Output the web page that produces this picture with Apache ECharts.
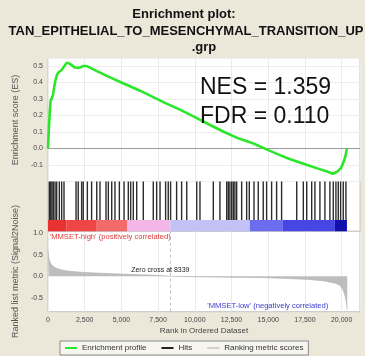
<!DOCTYPE html>
<html><head><meta charset="utf-8">
<script src="https://cdn.jsdelivr.net/npm/echarts@6/dist/echarts.min.js"></script>
<style>html,body{margin:0;padding:0;background:#ebe8d9;}#c{width:365px;height:356px;}</style>
</head><body><div id="c"></div>
<script>
// ---------- data ----------
const titleLines = ['Enrichment plot:', 'TAN_EPITHELIAL_TO_MESENCHYMAL_TRANSITION_UP', '.grp'];
const nesText = 'NES = 1.359';
const fdrText = 'FDR = 0.110';
const xTicks = [0, 2500, 5000, 7500, 10000, 12500, 15000, 17500, 20000];
const esTicks = [-0.1, 0.0, 0.1, 0.2, 0.3, 0.4, 0.5];
const metricTicks = [-0.5, 0.0, 0.5, 1.0];
const zeroCross = 8339;
const zeroCrossText = 'Zero cross at 8339';
const highText = "'MMSET-high' (positively correlated)";
const lowText = "'MMSET-low' (negatively correlated)";
const legendNames = ['Enrichment profile', 'Hits', 'Ranking metric scores'];

// running enrichment score [rank, ES]
const esProfile = [
  [0, 0], [60, 0.12], [120, 0.22], [180, 0.29], [270, 0.29], [330, 0.32], [420, 0.37],
  [500, 0.41], [590, 0.44], [700, 0.46], [820, 0.47], [930, 0.475], [1050, 0.49],
  [1160, 0.505], [1270, 0.52], [1450, 0.515], [1610, 0.505], [1840, 0.49], [2000, 0.488],
  [2180, 0.49], [2400, 0.5], [2600, 0.5], [2860, 0.49], [3300, 0.47], [4000, 0.44],
  [5000, 0.4], [6270, 0.35], [7200, 0.31], [8000, 0.275], [8990, 0.235], [10000, 0.19],
  [11240, 0.133], [12000, 0.1], [13000, 0.06], [14000, 0.03], [15000, -0.01],
  [15800, -0.04], [16500, -0.065], [17500, -0.095], [18500, -0.125], [19000, -0.14],
  [19400, -0.153], [19700, -0.14], [19950, -0.12], [20100, -0.09], [20250, -0.05], [20360, 0.0]
];

// gene-set hit positions (rank)
const hitRanks = [
  90, 180, 270, 360, 480, 590, 770, 930, 1090, 1910, 2060, 2290, 2400, 2680, 2970, 3320,
  3540, 3950, 4110, 4340, 4560, 4860, 5180, 5470, 5630, 5810, 6040, 6490, 7170, 7400,
  7630, 8010, 8190, 8350, 8760, 9100, 9450, 10130, 10350, 11260, 11710, 12170, 12280,
  12390, 12510, 12620, 12730, 12850, 13190, 13530, 13710, 14030, 14320, 14660, 14890,
  15230, 15570, 15910, 16940, 17390, 17620, 17960, 18180, 18520, 18860, 19200, 19430,
  19610, 19770, 19930, 20110, 20290
];

// ranked list metric [rank, signal2noise]
const metricScores = [
  [0, 0.62], [40, 0.45], [120, 0.34], [250, 0.26], [480, 0.2], [750, 0.165], [1020, 0.14],
  [1500, 0.115], [2200, 0.093], [3200, 0.075], [4400, 0.058], [5300, 0.047], [6300, 0.035],
  [7300, 0.02], [8339, 0], [9500, -0.01], [11000, -0.018], [12500, -0.025], [14400, -0.032],
  [16000, -0.05], [17800, -0.077], [18800, -0.11], [19600, -0.165], [19900, -0.22],
  [20100, -0.32], [20250, -0.48], [20330, -0.64], [20380, -0.78]
];

// heat bar bins [startRank, endRank, mean metric]
const colorBarBins = [
  [0, 1270, 0.3], [1270, 3320, 0.15], [3320, 5380, 0.09], [5380, 8339, 0.03],
  [8339, 13750, -0.04], [13750, 16000, -0.08], [16000, 19540, -0.13], [19540, 20360, -0.5]
];

// ---------- chart ----------
const FONT = '"Liberation Sans", Arial, sans-serif';
const fmtK = v => String(v).replace(/\B(?=(\d{3})+(?!\d))/g, ',');
const near = (arr, v) => arr.some(t => Math.abs(t - v) < 1e-6);
const L = 48, R = 5;
const X_MAX = 21250;
const HIT_BOTTOM = 0.227;

const chart = echarts.init(document.getElementById('c'));
const gridBase = {left: L, right: R, show: true, backgroundColor: '#fff', borderColor: '#c4c4c4', borderWidth: 1};
const xBase = {type: 'value', min: 0, max: X_MAX, interval: 2500,
  axisLine: {show: false}, axisTick: {show: false}};
const annoFont = 7.6;

chart.setOption({
  backgroundColor: '#ebe8d9',
  animation: false,
  textStyle: {fontFamily: FONT},
  graphic: [
    {type: 'text', x: 184, y: 14, style: {text: titleLines[0], fontSize: 13, fontWeight: 'bold', fontFamily: FONT, fill: '#111', align: 'center', verticalAlign: 'middle'}},
    {type: 'text', x: 186, y: 31.5, style: {text: titleLines[1], fontSize: 13, fontWeight: 'bold', fontFamily: FONT, fill: '#111', align: 'center', verticalAlign: 'middle'}},
    {type: 'text', x: 204, y: 47, style: {text: titleLines[2], fontSize: 13, fontWeight: 'bold', fontFamily: FONT, fill: '#111', align: 'center', verticalAlign: 'middle'}},
    {type: 'text', x: 200, y: 88, z: 100, style: {text: nesText, fontSize: 23, fontFamily: FONT, fill: '#111', verticalAlign: 'middle'}},
    {type: 'text', x: 200, y: 116.5, z: 100, style: {text: fdrText, fontSize: 23, fontFamily: FONT, fill: '#111', verticalAlign: 'middle'}}
  ],
  grid: [
    Object.assign({top: 58.5, height: 123}, gridBase),
    Object.assign({top: 181.5, height: 49.8}, gridBase),
    Object.assign({top: 231.3, height: 80.4}, gridBase)
  ],
  xAxis: [
    Object.assign({gridIndex: 0, axisLabel: {show: false}, splitLine: {lineStyle: {color: '#ebebeb'}}}, xBase),
    Object.assign({gridIndex: 1, axisLabel: {show: false}, splitLine: {show: false}}, xBase),
    Object.assign({gridIndex: 2,
      name: 'Rank in Ordered Dataset', nameLocation: 'middle', nameGap: 15,
      nameTextStyle: {fontSize: 8, color: '#444', fontFamily: FONT},
      axisLabel: {fontSize: 7, color: '#444', margin: 5, fontFamily: FONT,
        formatter: v => near(xTicks, v) ? fmtK(v) : ''},
      splitLine: {lineStyle: {color: '#ebebeb'}}}, xBase)
  ],
  yAxis: [
    {gridIndex: 0, type: 'value', min: -0.2, max: 0.545, interval: 0.1,
      name: 'Enrichment score (ES)', nameLocation: 'middle', nameGap: 21.5,
      nameTextStyle: {fontSize: 9, color: '#555', fontFamily: FONT},
      axisLine: {show: false}, axisTick: {show: false},
      axisLabel: {fontSize: 7, color: '#444', margin: 5, fontFamily: FONT,
        formatter: v => near(esTicks, v) ? v.toFixed(1) : ''},
      splitLine: {lineStyle: {color: '#ededed'}}},
    {gridIndex: 1, type: 'value', min: 0, max: 1, show: false, splitLine: {show: false}},
    {gridIndex: 2, type: 'value', min: -0.83, max: 1.05,
      name: 'Ranked list metric (Signal2Noise)', nameLocation: 'middle', nameGap: 21.5,
      nameTextStyle: {fontSize: 9, color: '#555', fontFamily: FONT},
      axisLine: {show: false},
      axisTick: {show: false, customValues: metricTicks},
      axisLabel: {fontSize: 7, color: '#444', margin: 5, fontFamily: FONT, customValues: metricTicks,
        formatter: v => v.toFixed(1)},
      splitLine: {show: false}}
  ],
  visualMap: [{
    type: 'piecewise', show: false, seriesIndex: 2, dimension: 2,
    pieces: [
      {gt: 0.2, color: '#e83232'},
      {gt: 0.12, lte: 0.2, color: '#ee4646'},
      {gt: 0.06, lte: 0.12, color: '#f26a6a'},
      {gt: 0, lte: 0.06, color: '#f3b6e6'},
      {gt: -0.07, lte: 0, color: '#c2c2f7'},
      {gt: -0.1, lte: -0.07, color: '#6c6cee'},
      {gt: -0.3, lte: -0.1, color: '#4646e4'},
      {lte: -0.3, color: '#1010aa'}
    ]
  }],
  legend: {
    left: 60, top: 341, padding: [3, 5], itemGap: 15,
    itemWidth: 12, itemHeight: 2,
    borderColor: '#8a8a8a', borderWidth: 1, backgroundColor: '#f6f5ef',
    textStyle: {fontSize: 8, color: '#333', fontFamily: FONT},
    data: [
      {name: legendNames[0], icon: 'rect', itemStyle: {color: '#2be62b'}},
      {name: legendNames[1], icon: 'rect', itemStyle: {color: '#222'}},
      {name: legendNames[2], icon: 'rect', itemStyle: {color: '#cfcfcf'}}
    ]
  },
  series: [
    {name: legendNames[0], type: 'line', xAxisIndex: 0, yAxisIndex: 0, data: esProfile,
      showSymbol: false, symbol: 'none', z: 5,
      lineStyle: {color: '#2be62b', width: 2.6},
      itemStyle: {color: '#2be62b'},
      markLine: {silent: true, symbol: 'none', label: {show: false},
        lineStyle: {color: '#9a9a9a', width: 1, type: 'solid'}, data: [{yAxis: 0}]}},
    {name: legendNames[1], type: 'custom', xAxisIndex: 1, yAxisIndex: 1,
      data: hitRanks.map(r => [r]), encode: {x: 0},
      itemStyle: {color: '#222'},
      renderItem: (params, api) => {
        const a = api.coord([api.value(0), 1]);
        const b = api.coord([api.value(0), HIT_BOTTOM]);
        return {type: 'line', shape: {x1: a[0], y1: a[1], x2: b[0], y2: b[1]},
          style: {stroke: '#151515', lineWidth: 1.4, opacity: 0.9}};
      }},
    {type: 'custom', xAxisIndex: 1, yAxisIndex: 1, data: colorBarBins, encode: {x: [0, 1]},
      renderItem: (params, api) => {
        const a = api.coord([api.value(0), HIT_BOTTOM]);
        const b = api.coord([api.value(1), 0]);
        return {type: 'rect', shape: {x: a[0], y: a[1], width: b[0] - a[0], height: b[1] - a[1]},
          style: {fill: api.visual('color')}};
      }},
    {name: legendNames[2], type: 'line', xAxisIndex: 2, yAxisIndex: 2, data: metricScores,
      showSymbol: false, symbol: 'none',
      lineStyle: {color: '#b0b0b0', width: 0.6},
      itemStyle: {color: '#cfcfcf'},
      areaStyle: {color: '#bdbdbd', opacity: 1},
      markLine: {silent: true, symbol: 'none', label: {show: false},
        lineStyle: {color: '#c2c2c2', width: 1, type: [3, 3]}, data: [{xAxis: zeroCross}]},
      markPoint: {silent: true, symbolSize: 0, data: [
        {coord: [7650, 0.14], label: {show: true, position: 'inside', formatter: zeroCrossText, fontSize: 7, color: '#222', fontFamily: FONT}},
        {coord: [120, 0.93], label: {show: true, position: 'inside', align: 'left', formatter: highText, fontSize: annoFont, color: '#e23a3a', fontFamily: FONT}},
        {coord: [19090, -0.7], label: {show: true, position: 'inside', align: 'right', formatter: lowText, fontSize: annoFont, color: '#3a3acc', fontFamily: FONT}}
      ]}}
  ]
});
</script></body></html>
